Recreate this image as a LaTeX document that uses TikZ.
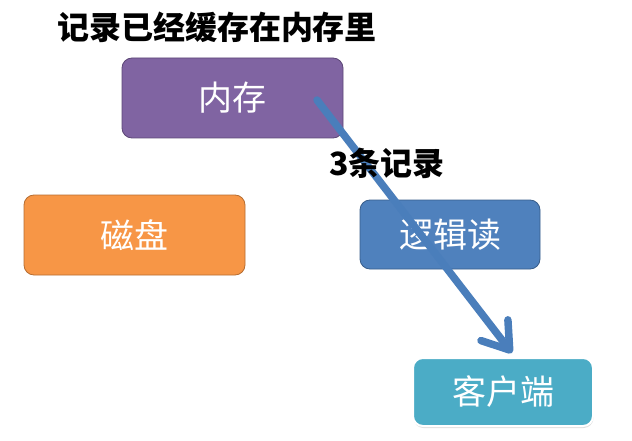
\documentclass[tikz,border=0pt]{standalone}
\usepackage{fontspec}
\newfontfamily\cjk{Noto Sans CJK SC}
\usetikzlibrary{arrows.meta,shadows}
\definecolor{cpurple}{HTML}{8064A2}
\definecolor{cpurpleb}{HTML}{5C4776}
\definecolor{corange}{HTML}{F79646}
\definecolor{corangeb}{HTML}{B66D31}
\definecolor{cblue}{HTML}{4F81BD}
\definecolor{cblueb}{HTML}{385D8A}
\definecolor{cteal}{HTML}{4BACC6}
\definecolor{carrow}{HTML}{4A7EBB}
\tikzset{
  box/.style={rounded corners=10pt, line width=0.8pt, text=white,
    font=\cjk\fontsize{34}{36}\selectfont, inner sep=0pt, anchor=center},
  heading/.style={font=\cjk\bfseries\fontsize{32}{34}\selectfont, text=black, inner sep=0pt},
  flow/.style={draw=carrow, line width=7.5pt, line cap=round,
    -{Straight Barb[round, length=25pt, width=34pt]}}
}
\begin{document}
\begin{tikzpicture}[x=1pt,y=-1pt]
\useasboundingbox (0,0) rectangle (632,441);
\node[heading] (title) at (217,27) {记录已经缓存在内存里};
\node[box, fill=cpurple, draw=cpurpleb, minimum width=221pt, minimum height=80pt] (mem) at (232.5,98) {内存};
\node[box, fill=corange, draw=corangeb, minimum width=221pt, minimum height=80pt] (disk) at (134.5,235) {磁盘};
\node[box, fill=cblue, draw=cblueb, minimum width=180pt, minimum height=69pt] (logic) at (450,234.5) {逻辑读};
\node[box, fill=cteal, draw=white, line width=2pt, minimum width=180pt, minimum height=68pt,
  drop shadow={shadow xshift=0.5pt, shadow yshift=-2pt, opacity=0.25}] (client) at (503,392) {客户端};
\coordinate (start) at (317,100);
\coordinate (end) at (512,353);
\draw[flow] (start) -- (end);
\node[heading] (count) at (387,163) {3条记录};
\end{tikzpicture}
\end{document}
